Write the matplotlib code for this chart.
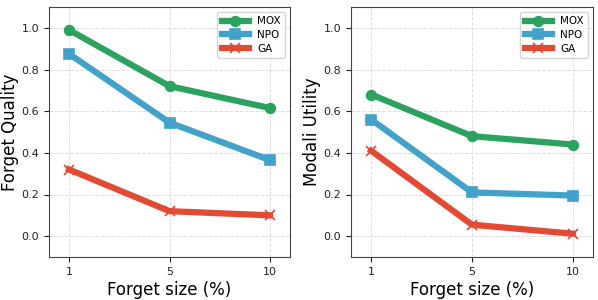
import matplotlib
matplotlib.use("Agg")
import matplotlib.pyplot as plt

# 数据
forget_sizes = ["1", "5", "10"]
methods = ["MOX", "NPO", "GA"]
forget_quality = {
    "MOX": [0.99, 0.72, 0.615],
    "NPO": [0.875, 0.545, 0.365],
    "GA": [0.32, 0.12, 0.10],
}
modali_utility = {
    "MOX": [0.68, 0.48, 0.44],
    "NPO": [0.56, 0.21, 0.195],
    "GA": [0.41, 0.055, 0.012],
}
colors = {"MOX": "#2ca25f", "NPO": "#43a2ca", "GA": "#e34a33"}
markers = {"MOX": "o", "NPO": "s", "GA": "x"}

fig = plt.figure(figsize=(5.98, 3.0), dpi=100)
ax1 = fig.add_axes([49 / 598, 43 / 300, 241 / 598, 250 / 300])
ax2 = fig.add_axes([351 / 598, 43 / 300, 242 / 598, 250 / 300])


def draw(ax, data, ylabel):
    xs = range(len(forget_sizes))
    for m in methods:
        ax.plot(xs, data[m], color=colors[m], marker=markers[m], lw=4.5,
                markersize=7, markeredgewidth=1.2, label=m)
    ax.set_xticks(list(xs))
    ax.set_xticklabels(forget_sizes)
    ax.set_xlim(-0.2, 2.2)
    ax.set_ylim(-0.1, 1.1)
    ax.set_yticks([0.0, 0.2, 0.4, 0.6, 0.8, 1.0])
    ax.tick_params(labelsize=8, colors="#222222")
    ax.grid(True, linestyle="--", color="#dddddd", linewidth=0.7)
    ax.set_xlabel("Forget size (%)", fontsize=12, labelpad=3)
    ax.set_ylabel(ylabel, fontsize=12, labelpad=2)
    for s in ax.spines.values():
        s.set_color("#444444")
    ax.legend(loc="upper right", fontsize=7.5, handlelength=2.6,
              borderpad=0.4, labelspacing=0.35)


draw(ax1, forget_quality, "Forget Quality")
draw(ax2, modali_utility, "Modali Utility")

plt.savefig("out.png", dpi=100)
